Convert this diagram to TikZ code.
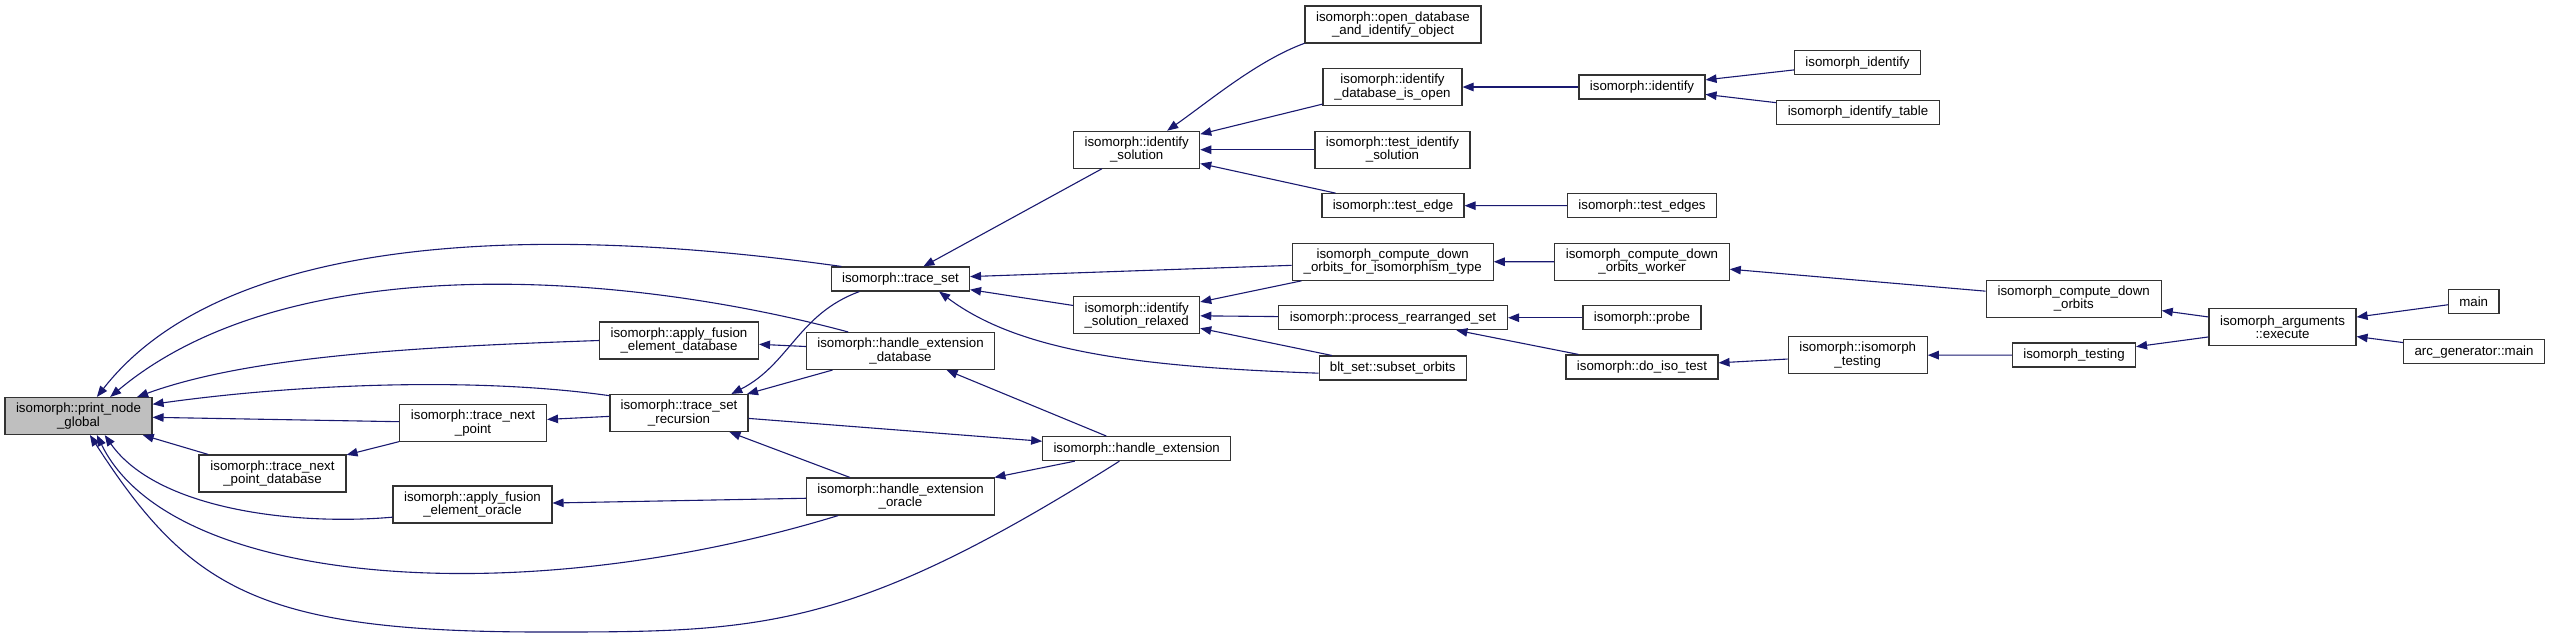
\documentclass[tikz,border=0pt]{standalone}
\usepackage{fontspec}
\setmainfont{Liberation Sans}
\usepackage{tikz}
\usetikzlibrary{arrows.meta}
\definecolor{kante}{HTML}{191970}
\definecolor{wurzel}{HTML}{BFBFBF}

\begin{document}
\begin{tikzpicture}[x=1pt, y=1pt, line width=1.1pt,
        fn/.style={draw=black!80, fill=white, rectangle, inner sep=0pt, align=center,
            minimum height=24pt, font={\fontsize{13.3}{13.3}\selectfont}},
        tall/.style={minimum height=37pt},
        calls/.style={-{Triangle[length=11pt, width=8.5pt]}, color=kante}]
            \useasboundingbox (0,0) rectangle (2550,-638);

            % Knoten.
            \node[fn, tall, fill=wurzel, minimum width=147pt] (png) at (78.5,-416) {isomorph::print\_node\\\_global};
            \node[fn, tall, minimum width=147pt] (tnpd) at (272.5,-473.5) {isomorph::trace\_next\\\_point\_database};
            \node[fn, tall, minimum width=147pt] (tnp) at (473,-423) {isomorph::trace\_next\\\_point};
            \node[fn, tall, minimum width=159pt] (afeo) at (472.5,-504.5) {isomorph::apply\_fusion\\\_element\_oracle};
            \node[fn, tall, minimum width=159pt] (afed) at (679,-340.5) {isomorph::apply\_fusion\\\_element\_database};
            \node[fn, tall, minimum width=138pt] (tsr) at (679,-413) {isomorph::trace\_set\\\_recursion};
            \node[fn, minimum width=138pt] (ts) at (900.5,-279) {isomorph::trace\_set};
            \node[fn, tall, minimum width=188pt] (hed) at (900.5,-351) {isomorph::handle\_extension\\\_database};
            \node[fn, tall, minimum width=188pt] (heo) at (900.5,-496.5) {isomorph::handle\_extension\\\_oracle};
            \node[fn, minimum width=188pt] (he) at (1136.7,-448.6) {isomorph::handle\_extension};
            \node[fn, tall, minimum width=126pt] (is) at (1136.7,-149.7) {isomorph::identify\\\_solution};
            \node[fn, tall, minimum width=126pt] (isr) at (1136.7,-315.2) {isomorph::identify\\\_solution\_relaxed};
            \node[fn, tall, minimum width=176pt] (odio) at (1393,-24.5) {isomorph::open\_database\\\_and\_identify\_object};
            \node[fn, tall, minimum width=139pt] (dio) at (1392.5,-87) {isomorph::identify\\\_database\_is\_open};
            \node[fn, tall, minimum width=155pt] (tis) at (1392.5,-149.7) {isomorph::test\_identify\\\_solution};
            \node[fn, minimum width=142pt] (te) at (1393,-205.7) {isomorph::test\_edge};
            \node[fn, tall, minimum width=201pt] (cdofit) at (1392.7,-261.8) {isomorph\_compute\_down\\\_orbits\_for\_isomorphism\_type};
            \node[fn, minimum width=229pt] (prs) at (1393,-317.7) {isomorph::process\_rearranged\_set};
            \node[fn, minimum width=147pt] (so) at (1392.7,-368) {blt\_set::subset\_orbits};
            \node[fn, minimum width=126pt] (idf) at (1642,-87) {isomorph::identify};
            \node[fn, minimum width=149pt] (tes) at (1642,-205.6) {isomorph::test\_edges};
            \node[fn, tall, minimum width=174.5pt] (cdow) at (1642,-261.7) {isomorph\_compute\_down\\\_orbits\_worker};
            \node[fn, minimum width=118pt] (prb) at (1642,-317.7) {isomorph::probe};
            \node[fn, minimum width=152pt] (dit) at (1642,-367) {isomorph::do\_iso\_test};
            \node[fn, minimum width=126pt] (iid) at (1857.5,-62.8) {isomorph\_identify};
            \node[fn, minimum width=163pt] (iidt) at (1858,-112.2) {isomorph\_identify\_table};
            \node[fn, tall, minimum width=139pt] (iit) at (1857.7,-355.2) {isomorph::isomorph\\\_testing};
            \node[fn, tall, minimum width=175pt] (cdo) at (2073.7,-298.7) {isomorph\_compute\_down\\\_orbits};
            \node[fn, minimum width=123pt] (itg) at (2074,-355) {isomorph\_testing};
            \node[fn, tall, minimum width=147pt] (exe) at (2282.5,-327) {isomorph\_arguments\\::execute};
            \node[fn, minimum width=50.5pt] (mn) at (2473.7,-301.3) {main};
            \node[fn, minimum width=141pt] (agm) at (2474,-351.7) {arc\_generator::main};
            \coordinate (tief) at (543,-632);

            % Kanten.
            \foreach \a/\b in {tnp/png, tnpd/png, tnp/tnpd, tsr/tnp, hed/afed, heo/afeo,
                hed/tsr, heo/tsr, tsr/he, he/hed, he/heo, is/ts, cdofit/ts, isr/ts,
                dio/is, tis/is, te/is, idf/dio, iid/idf, iidt/idf, tes/te, cdofit/isr,
                prs/isr, so/isr, cdow/cdofit, prb/prs, dit/prs, cdo/cdow, iit/dit,
                itg/iit, exe/cdo, exe/itg, mn/exe, agm/exe}
            {
                \draw[calls] (\a) -- (\b);
            }

            % Boegen zu print_node_global.
            \draw[calls] (ts.168) to[out=172, in=52, out distance=330pt, in distance=200pt] (png.46);
            \draw[calls] (hed.160) to[out=165, in=40, out distance=240pt, in distance=230pt] (png.31);
            \draw[calls] (afed.west) to[out=182, in=20, out distance=180pt, in distance=120pt] (png.18);
            \draw[calls] (tsr.166) to[out=172, in=8, out distance=140pt, in distance=140pt] (png.9);
            \draw[calls] (afeo.189) to[out=185, in=305, out distance=100pt, in distance=90pt] (png.324);
            \draw[calls] (heo.197) to[out=197, in=296, out distance=330pt, in distance=170pt] (png.314);
            \draw[calls] (he.216) .. controls (849,-632) and (760,-632) .. (tief)
                .. controls (260,-632) and (190,-590) .. (png.301);

            % Sonstige Boegen.
            \draw[calls] (ts.197) to[out=200, in=27, out distance=65pt, in distance=65pt] (tsr.20);
            \draw[calls] (so.184) to[out=178, in=323, out distance=180pt, in distance=100pt] (ts.342);
            \draw[calls] (odio.192) to[out=200, in=35, out distance=50pt, in distance=50pt] (is.32);
        \end{tikzpicture}
\end{document}
